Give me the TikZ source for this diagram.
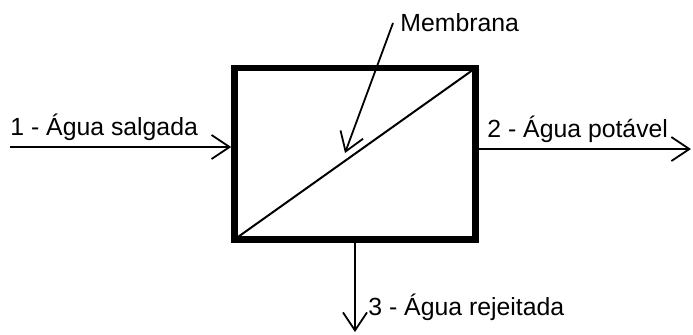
\documentclass[tikz,border=0pt]{standalone}
\usepackage{fontspec}
\setmainfont{Liberation Sans}
\usetikzlibrary{arrows.meta, positioning}
\tikzset{
  unitbox/.style={rectangle, draw=black, line width=3.3pt,
    minimum width=120.5pt, minimum height=85.75pt, inner sep=0pt},
  flow/.style={-{Straight Barb[length=9pt, width=12pt]}, line width=0.9pt},
  flowlabel/.style={font=\fontsize{12.4}{14}\selectfont, inner sep=0pt, anchor=base west}
}
\begin{document}
\begin{tikzpicture}[x=0.5pt, y=-0.5pt]
  \useasboundingbox (0,0) rectangle (693,334);
  % desalination unit with membrane
  \node[unitbox] (unit) at (355,153.75) {};
  \draw[line width=1pt] ([shift={(3.5,-3.5)}]unit.south west) -- ([shift={(-3.5,3.5)}]unit.north east);
  % streams
  \coordinate (feed) at (10,147);
  \coordinate (permeate) at (691,149);
  \coordinate (reject) at (355,332);
  \coordinate (memtip) at (345,153);
  \draw[flow] (feed) -- (feed -| unit.west);
  \draw[flow] (unit.east |- permeate) -- (permeate);
  \draw[flow] (unit.south) -- (reject);
  % labels
  \node[flowlabel] (feedlabel) at (10,135) {1 - Água salgada};
  \node[flowlabel] (permlabel) at (487,137) {2 - Água potável};
  \node[flowlabel] (rejlabel) at (368,315) {3 - Água rejeitada};
  \node[flowlabel] (memlabel) at (400,31) {Membrana};
  \draw[flow] ([shift={(-7,-8)}]memlabel.base west) -- (memtip);
\end{tikzpicture}
\end{document}
